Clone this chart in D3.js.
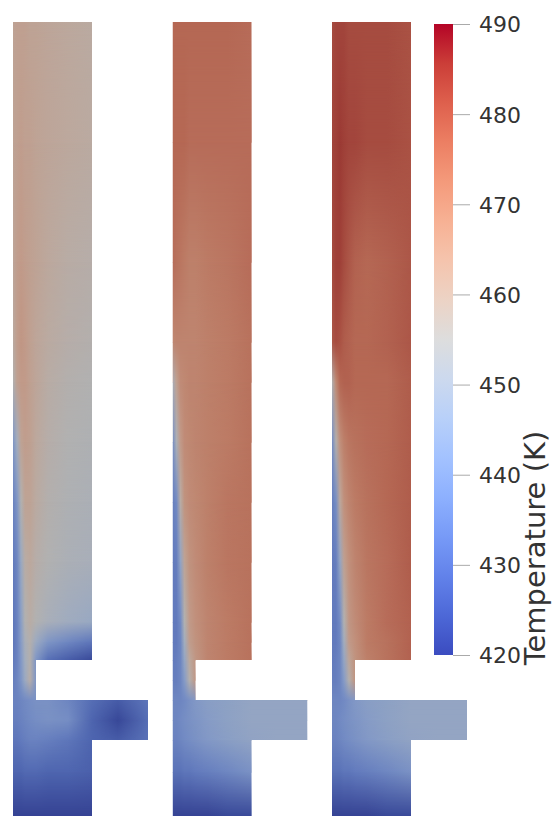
<!DOCTYPE html>
<html>
    <head>
        <meta charset="utf-8">
        <script src="https://d3js.org/d3.v7.min.js"></script>
        <style>
            body { margin: 0; background: #fff; }
        </style>
        <script>
            // DATA ////////////////////////////////////////////////////////////////////////////

            const cases = ["A", "B", "C"];

            // mesh nodes: across the channel (x) and down from the top (y)
            const meshX = [0, 4, 8, 12, 17, 23, 35, 55, 79, 105, 135];
            const meshY = [0, 120, 240, 320, 360, 420, 480, 540, 600, 620, 638, 658, 678, 698, 718, 750, 794];

            // domain outline (same mesh units)
            const outline = [[0, 0], [79, 0], [79, 638], [23, 638], [23, 678], [135, 678],
                             [135, 718], [79, 718], [79, 794], [0, 794]];

            // temperature (K) at every mesh node, one row per meshY
            const tempA = [
                [462, 463, 463, 463, 462, 462, 461, 460, 459, 459, 459],
                [462, 463, 464, 463, 463, 462, 461, 460, 459, 459, 459],
                [461, 464, 465, 464, 463, 462, 460, 458, 457, 457, 457],
                [459, 464, 466, 465, 463, 461, 459, 457, 456, 456, 456],
                [455, 463, 465, 465, 463, 461, 458, 456, 455, 455, 455],
                [440, 450, 462, 464, 463, 460, 457, 455, 454, 454, 454],
                [435, 440, 455, 462, 462, 459, 456, 454, 453, 453, 453],
                [433, 436, 447, 458, 460, 457, 455, 453, 452, 452, 452],
                [432, 435, 443, 455, 458, 455, 452, 449, 447, 447, 447],
                [432, 435, 442, 452, 456, 448, 440, 436, 432, 432, 432],
                [433, 435, 441, 450, 456, 440, 430, 426, 422, 422, 422],
                [434, 436, 440, 448, 457, 440, 430, 426, 422, 422, 422],
                [435, 435, 436, 437, 438, 439, 439, 436, 430, 426, 432],
                [434, 434, 435, 436, 437, 438, 439, 438, 428, 422, 430],
                [432, 432, 433, 434, 435, 435, 434, 432, 428, 426, 431],
                [428, 428, 428, 429, 429, 429, 428, 428, 427, 427, 427],
                [421, 421, 421, 421, 421, 421, 421, 421, 421, 421, 421]
            ];
            const tempB = [
                [477, 477, 477, 477, 477, 477, 477, 477, 476, 476, 476],
                [477, 477, 477, 477, 476, 476, 476, 476, 476, 476, 476],
                [476, 475, 474, 473, 472, 472, 473, 474, 476, 476, 476],
                [470, 471, 471, 471, 471, 471, 472, 473, 475, 475, 475],
                [452, 463, 469, 470, 471, 471, 472, 473, 475, 475, 475],
                [437, 453, 465, 469, 470, 471, 472, 473, 475, 475, 475],
                [434, 437, 458, 467, 469, 470, 472, 474, 475, 475, 475],
                [433, 434, 445, 462, 467, 469, 472, 474, 475, 475, 475],
                [433, 433, 437, 455, 465, 468, 471, 473, 475, 475, 475],
                [433, 433, 436, 450, 464, 467, 471, 473, 475, 475, 475],
                [433, 434, 436, 446, 460, 466, 471, 473, 475, 475, 475],
                [434, 434, 436, 442, 456, 466, 471, 473, 475, 475, 475],
                [436, 436, 436, 437, 439, 441, 443, 444, 446, 446, 446],
                [436, 436, 437, 438, 439, 440, 442, 444, 446, 446, 446],
                [435, 435, 436, 437, 438, 439, 441, 443, 445, 446, 446],
                [431, 431, 431, 432, 432, 433, 434, 436, 439, 439, 439],
                [421, 421, 421, 421, 421, 421, 421, 422, 422, 422, 422]
            ];
            const tempC = [
                [482, 483, 483, 483, 482, 482, 482, 482, 481, 481, 481],
                [483, 484, 485, 484, 483, 483, 482, 482, 481, 481, 481],
                [482, 484, 484, 482, 480, 478, 477, 478, 480, 480, 480],
                [480, 482, 481, 479, 478, 477, 477, 478, 480, 480, 480],
                [455, 470, 477, 478, 478, 477, 477, 477, 479, 479, 479],
                [437, 456, 468, 472, 474, 475, 476, 477, 479, 479, 479],
                [434, 438, 460, 468, 471, 473, 475, 477, 479, 479, 479],
                [433, 434, 446, 463, 468, 471, 474, 476, 479, 479, 479],
                [433, 433, 437, 455, 466, 469, 473, 476, 478, 478, 478],
                [433, 433, 436, 450, 465, 468, 473, 475, 478, 478, 478],
                [433, 434, 436, 446, 461, 467, 472, 475, 478, 478, 478],
                [434, 434, 436, 442, 456, 467, 472, 475, 478, 478, 478],
                [436, 436, 436, 437, 439, 441, 443, 444, 446, 446, 446],
                [436, 436, 437, 438, 439, 440, 442, 444, 446, 446, 446],
                [435, 435, 436, 437, 438, 439, 441, 443, 445, 446, 446],
                [431, 431, 431, 432, 432, 433, 434, 436, 439, 439, 439],
                [421, 421, 421, 421, 421, 421, 421, 422, 422, 422, 422]
            ];

            // colour bar
            const tempTicks = [420, 430, 440, 450, 460, 470, 480, 490];
            const barTitle = "Temperature (K)";

            // cool to warm colour map
            const cmapPos = [0, 0.0625, 0.125, 0.1875, 0.25, 0.3125, 0.375, 0.4375, 0.5,
                             0.5625, 0.625, 0.6875, 0.75, 0.8125, 0.875, 0.9375, 1];
            const cmapRGB = ["#3b4cc0", "#4d68d7", "#6282ea", "#779af7", "#8db0fe", "#a3c2ff",
                             "#b8d0f9", "#ccd9ee", "#dddddd", "#ecd3c5", "#f5c4ad", "#f7b194",
                             "#f49a7b", "#ec7f63", "#de604d", "#cb3e38", "#b40426"];


            function makeSVG() {

                const width = 555;
                const height = 816;
                const temps = { A: tempA, B: tempB, C: tempC };

                var svg = d3.select("body").append("svg")
                            .attr("width", width)
                            .attr("height", height);
                var defs = svg.append("defs");

                // SCALES ///////////////////////////////////////////////

                const color = d3.scaleLinear()
                                .domain(cmapPos.map(t => 420 + 70 * t))
                                .range(cmapRGB)
                                .clamp(true);

                // the rendered surface is lit, so it comes out a bit darker than the bar
                function lit(T) {
                    const c = d3.rgb(color(T));
                    const g = 0.3 * c.r + 0.59 * c.g + 0.11 * c.b;
                    const k = 0.8, s = 0.12;
                    return d3.rgb(k * (c.r * (1 - s) + g * s),
                                  k * (c.g * (1 - s) + g * s),
                                  k * (c.b * (1 - s) + g * s)).formatHex();
                }

                const panelX = d3.scalePoint().domain(cases).range([13, 332]);
                const yScale = d3.scaleLinear().domain([0, 794]).range([22, 816]);
                const xMax = d3.max(meshX);

                // vertical fade used to blend one mesh row into the next
                var fg = defs.append("linearGradient")
                             .attr("id", "fade")
                             .attr("x1", 0).attr("y1", 0).attr("x2", 0).attr("y2", 1);
                fg.append("stop").attr("offset", 0).attr("stop-color", "#fff").attr("stop-opacity", 0);
                fg.append("stop").attr("offset", 1).attr("stop-color", "#fff").attr("stop-opacity", 1);
                defs.append("mask")
                    .attr("id", "fadeMask")
                    .attr("maskContentUnits", "objectBoundingBox")
                    .attr("x", 0).attr("y", 0).attr("width", 1).attr("height", 1)
                    .style("mask-type", "alpha")
                    .append("rect")
                    .attr("width", 1).attr("height", 1)
                    .attr("fill", "url(#fade)");

                // PANELS ///////////////////////////////////////////////

                cases.forEach(function(c) {
                    const xScale = d3.scaleLinear().domain([0, xMax]).range([panelX(c), panelX(c) + xMax]);
                    const rows = temps[c];

                    // one horizontal gradient per mesh row
                    rows.forEach(function(row, i) {
                        var lg = defs.append("linearGradient")
                                     .attr("id", `row-${c}-${i}`)
                                     .attr("x1", 0).attr("x2", 1).attr("y1", 0).attr("y2", 0);
                        lg.selectAll("stop")
                          .data(row)
                          .join("stop")
                          .attr("offset", (d, j) => meshX[j] / xMax)
                          .attr("stop-color", d => lit(d));
                    });

                    defs.append("clipPath")
                        .attr("id", `clip-${c}`)
                        .append("path")
                        .attr("d", d3.line().x(d => xScale(d[0])).y(d => yScale(d[1]))(outline) + "Z");

                    var g = svg.append("g").attr("clip-path", `url(#clip-${c})`);
                    const bands = d3.range(meshY.length - 1);

                    g.selectAll("rect.lo")
                     .data(bands)
                     .join("rect")
                     .attr("class", "lo")
                     .attr("x", xScale(0))
                     .attr("width", xScale(xMax) - xScale(0))
                     .attr("y", i => yScale(meshY[i]))
                     .attr("height", i => yScale(meshY[i + 1]) - yScale(meshY[i]) + 0.5)
                     .attr("fill", i => `url(#row-${c}-${i})`);

                    g.selectAll("rect.hi")
                     .data(bands)
                     .join("rect")
                     .attr("class", "hi")
                     .attr("x", xScale(0))
                     .attr("width", xScale(xMax) - xScale(0))
                     .attr("y", i => yScale(meshY[i]))
                     .attr("height", i => yScale(meshY[i + 1]) - yScale(meshY[i]) + 0.5)
                     .attr("fill", i => `url(#row-${c}-${i + 1})`)
                     .attr("mask", "url(#fadeMask)");
                });

                // COLOUR BAR ///////////////////////////////////////////

                const barScale = d3.scaleLinear().domain([420, 490]).range([655, 24]);
                const barX = 434, barW = 19;

                var bg = defs.append("linearGradient")
                             .attr("id", "bar")
                             .attr("x1", 0).attr("x2", 0).attr("y1", 1).attr("y2", 0);
                bg.selectAll("stop")
                  .data(cmapPos)
                  .join("stop")
                  .attr("offset", d => d)
                  .attr("stop-color", (d, i) => cmapRGB[i]);

                svg.append("rect")
                   .attr("x", barX)
                   .attr("y", barScale(490))
                   .attr("width", barW)
                   .attr("height", barScale(420) - barScale(490))
                   .attr("fill", "url(#bar)");

                var ax = svg.append("g")
                            .attr("transform", `translate(${barX + barW},0)`)
                            .call(d3.axisRight(barScale).tickValues(tempTicks).tickSize(17).tickPadding(9));
                ax.select(".domain").remove();
                ax.selectAll(".tick line").attr("stroke", "#aaa");
                ax.selectAll(".tick text")
                  .attr("fill", "#333")
                  .attr("font-family", "'DejaVu Sans', sans-serif")
                  .attr("font-size", 22)
                  .attr("dy", "0.36em");

                svg.append("text")
                   .attr("transform", "translate(545,548) rotate(-90)")
                   .attr("text-anchor", "middle")
                   .attr("fill", "#333")
                   .attr("font-family", "'DejaVu Sans', sans-serif")
                   .attr("font-size", 29)
                   .text(barTitle);
            }
        </script>
    </head>
    <body onload="makeSVG()">
    </body>
</html>
